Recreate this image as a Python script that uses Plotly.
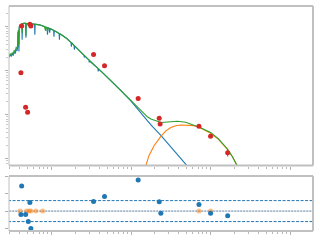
import plotly.graph_objects as go

# ---------------- data ----------------
# Photometry (wavelength in micron, nuFnu in erg s^-1 cm^-2)
phot_wl = [0.422, 0.535, 0.551, 0.413, 0.473, 0.501, 3.38, 4.64, 12.3, 22.6, 23.2, 71.4, 100, 164]
phot_flux = [1.05e-9, 1.15e-9, 1.05e-9, 9.06e-11, 1.48e-11, 1.14e-11, 2.34e-10, 1.30e-10,
             2.35e-11, 8.34e-12, 6.21e-12, 5.51e-12, 3.28e-12, 1.38e-12]
phot_err = [0.04e-9, 0.04e-9, 0.04e-9, 0.3e-11, 0.05e-11, 0.04e-11, 0.05e-10, 0.03e-10,
            0.05e-11, 0.2e-12, 0.15e-12, 0.2e-12, 0.1e-12, 0.25e-12]

# Stellar model (log10 micron, log10 nuFnu)
star_logwl = [-0.534, -0.519, -0.506, -0.494, -0.481, -0.469, -0.456, -0.444, -0.431, -0.425,
              -0.421, -0.4175, -0.414, -0.409, -0.405, -0.394, -0.3725, -0.369, -0.365, -0.350,
              -0.325, -0.321, -0.3175, -0.275, -0.2125, -0.209, -0.205, -0.150, -0.075, -0.056,
              -0.050, -0.044, -0.029, -0.0225, -0.016, 0.000, 0.0275, 0.031, 0.035, 0.0625,
              0.096, 0.100, 0.104, 0.125, 0.1875, 0.246, 0.250, 0.254, 0.284, 0.2875,
              0.291, 0.3125, 0.375, 0.409, 0.4125, 0.416, 0.471, 0.475, 0.479, 0.500,
              0.584, 0.5875, 0.591, 0.625, 0.750, 0.875, 1.000, 1.125, 1.250, 1.375,
              1.500, 1.625, 1.750, 1.875]
star_logflux = [-9.698, -9.631, -9.676, -9.608, -9.653, -9.563, -9.608, -9.518, -9.541, -9.450,
                -9.135, -9.518, -9.068, -9.563, -9.000, -8.955, -8.932, -9.293, -8.932, -8.921,
                -8.921, -9.248, -8.921, -8.928, -8.939, -9.180, -8.939, -8.955, -9.000, -9.018,
                -9.180, -9.023, -9.034, -9.135, -9.041, -9.056, -9.081, -9.225, -9.086, -9.113,
                -9.151, -9.293, -9.155, -9.180, -9.259, -9.354, -9.450, -9.360, -9.421, -9.518,
                -9.435, -9.473, -9.586, -9.646, -9.698, -9.660, -9.759, -9.811, -9.773, -9.811,
                -9.946, -10.014, -9.959, -10.014, -10.228, -10.453, -10.689, -10.959, -11.230, -11.466,
                -11.725, -11.973, -12.243, -12.514]

# Total model
total_logwl = [-0.534, -0.519, -0.506, -0.494, -0.481, -0.469, -0.456, -0.444, -0.431, -0.425,
               -0.421, -0.4175, -0.414, -0.409, -0.405, -0.394, -0.3725, -0.369, -0.365, -0.350,
               -0.325, -0.321, -0.3175, -0.275, -0.2125, -0.150, -0.0875, -0.075, -0.069, -0.056,
               -0.050, -0.044, 0.000, 0.0625, 0.125, 0.1875, 0.250, 0.3125, 0.375, 0.500,
               0.625, 0.750, 0.875, 1.000, 1.125, 1.209, 1.250, 1.334, 1.375, 1.4625,
               1.584, 1.6875, 1.791, 1.875, 2.000, 2.100, 2.209, 2.275, 2.334, 2.400]
total_logflux = [-9.676, -9.608, -9.653, -9.586, -9.631, -9.541, -9.563, -9.473, -9.495, -9.383,
                 -9.113, -9.428, -9.068, -9.405, -9.000, -8.955, -8.932, -9.135, -8.932, -8.921,
                 -8.921, -9.203, -8.921, -8.928, -8.939, -8.955, -8.993, -9.090, -9.000, -9.018,
                 -9.113, -9.023, -9.056, -9.113, -9.180, -9.259, -9.360, -9.473, -9.586, -9.811,
                 -10.014, -10.228, -10.453, -10.678, -10.914, -11.050, -11.095, -11.151, -11.173, -11.162,
                 -11.146, -11.169, -11.230, -11.291, -11.399, -11.545, -11.770, -11.950, -12.153, -12.401]

# Dust/disk component
dust_logwl = [1.1625, 1.175, 1.1875, 1.225, 1.291, 1.375, 1.4375, 1.500, 1.5625, 1.625,
              1.7125, 1.791, 1.875, 2.000, 2.100, 2.209, 2.275, 2.334, 2.400]
dust_logflux = [-12.671, -12.266, -12.146, -11.928, -11.696, -11.489, -11.365, -11.286, -11.248, -11.230,
                -11.230, -11.246, -11.297, -11.421, -11.556, -11.777, -11.950, -12.153, -12.401]

# Residuals
res_wl = [0.422, 0.535, 0.413, 0.473, 0.511, 0.551, 3.38, 4.64, 12.3, 22.6, 23.7, 71.4, 100, 164]
res_val = [1.44, 0.49, -0.19, -0.19, -0.60, -1.00, 0.55, 0.84, 1.78, 0.53, -0.13, 0.38, -0.13, -0.26]
excl_wl = [0.402, 0.487, 0.520, 0.551, 0.637, 0.772, 71.4, 100]
excl_val = [0, 0, 0, 0, 0, 0, 0, 0]
res_band = 0.6

BLUE, ORANGE, GREEN, RED = "#1f77b4", "#ff7f0e", "#2ca02c", "#d62728"
GREY = "#c0c0c0"

fig = go.Figure()
fig.add_trace(go.Scatter(x=[10 ** v for v in star_logwl], y=[10 ** v for v in star_logflux],
                         mode="lines", line=dict(color=BLUE, width=1.1), xaxis="x", yaxis="y"))
fig.add_trace(go.Scatter(x=[10 ** v for v in dust_logwl], y=[10 ** v for v in dust_logflux],
                         mode="lines", line=dict(color=ORANGE, width=1.1), xaxis="x", yaxis="y"))
fig.add_trace(go.Scatter(x=[10 ** v for v in total_logwl], y=[10 ** v for v in total_logflux],
                         mode="lines", line=dict(color=GREEN, width=1.1), xaxis="x", yaxis="y"))
fig.add_trace(go.Scatter(x=phot_wl, y=phot_flux, mode="markers",
                         marker=dict(color=RED, size=5),
                         error_y=dict(type="data", array=phot_err, color=RED, thickness=1, width=0),
                         xaxis="x", yaxis="y"))

# residual panel
fig.add_trace(go.Scatter(x=[0.25, 2000], y=[0, 0], mode="lines",
                         line=dict(color="#c8d2dc", width=1), xaxis="x2", yaxis="y2"))
fig.add_trace(go.Scatter(x=[0.25, 2000], y=[0, 0], mode="lines",
                         line=dict(color="#2b5d8a", width=1, dash="1px,2px"), xaxis="x2", yaxis="y2"))
for b in (res_band, -res_band):
    fig.add_trace(go.Scatter(x=[0.25, 2000], y=[b, b], mode="lines",
                             line=dict(color=BLUE, width=1, dash="3px,1.5px"), xaxis="x2", yaxis="y2"))
fig.add_trace(go.Scatter(x=excl_wl, y=excl_val, mode="markers",
                         marker=dict(color=ORANGE, size=5, opacity=0.5), xaxis="x2", yaxis="y2"))
fig.add_trace(go.Scatter(x=res_wl, y=res_val, mode="markers",
                         marker=dict(color=BLUE, size=5), xaxis="x2", yaxis="y2"))

tick_common = dict(ticks="outside", ticklen=3, tickwidth=1, tickcolor="#b0b0b0",
                   showticklabels=False, showgrid=False, zeroline=False, showline=False)
xr = [-0.534, 3.2875]
fig.update_layout(
    width=320, height=240, showlegend=False,
    margin=dict(l=7, r=7, t=6, b=7),
    paper_bgcolor="white", plot_bgcolor="white",
    xaxis=dict(type="log", range=xr, domain=[0, 1], anchor="y", dtick=1,
               minor=dict(ticks="outside", ticklen=2, tickcolor="#b8b8b8", dtick="D1"),
               **tick_common),
    yaxis=dict(type="log", range=[-12.153, -8.527], domain=[0.2907, 1], anchor="x", dtick=1,
               minor=dict(ticks="outside", ticklen=2, tickcolor="#c8c8c8", dtick="D1"),
               **tick_common),
    xaxis2=dict(type="log", range=xr, domain=[0, 1], anchor="y2", dtick=1,
                minor=dict(ticks="outside", ticklen=2, tickcolor="#b8b8b8", dtick="D1"),
                **tick_common),
    yaxis2=dict(range=[-1.14, 2.01], domain=[0, 0.2445], anchor="x2", dtick=1, **tick_common),
)

# frames
for xa, ya in (("x", "y"), ("x2", "y2")):
    xr_, yr_ = xa + " domain", ya + " domain"
    fig.add_shape(type="line", xref=xr_, yref=yr_, x0=0, x1=1, y0=0, y1=0, line=dict(color=GREY, width=2))
    fig.add_shape(type="line", xref=xr_, yref=yr_, x0=0, x1=1, y0=1, y1=1, line=dict(color=GREY, width=2))
    fig.add_shape(type="line", xref=xr_, yref=yr_, x0=1, x1=1, y0=0, y1=1, line=dict(color=GREY, width=2))
    fig.add_shape(type="line", xref=xr_, yref=yr_, x0=0, x1=0, y0=0, y1=1, line=dict(color=GREY, width=1))

fig.write_html("out.html")
